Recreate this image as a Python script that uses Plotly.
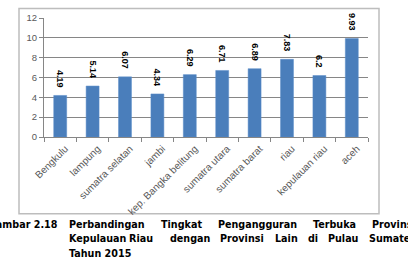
import plotly.graph_objects as go

categories = ["Bengkulu", "lampung", "sumatra selatan", "jambi", "kep. Bangka belitung",
              "sumatra utara", "sumatra barat", "riau", "kepulauan riau", "aceh"]
values = [4.19, 5.14, 6.07, 4.34, 6.29, 6.71, 6.89, 7.83, 6.2, 9.93]
value_labels = ["4.19", "5.14", "6.07", "4.34", "6.29", "6.71", "6.89", "7.83", "6.2", "9.93"]
y_ticks = [0, 2, 4, 6, 8, 10, 12]

caption_lines = [
    ["Perbandingan", "Tingkat", "Pengangguran", "Terbuka", "Provinsi"],
    ["Kepulauan", "Riau", "dengan", "Provinsi", "Lain", "di", "Pulau", "Sumatera"],
    ["Tahun 2015"],
]
caption_label = "Gambar 2.18"

W, H = 408, 267
L, R, T, B = 44, 368, 13, 137  # plot area in pixels

def px(x):
    return (x - L) / (R - L)

def py(y):
    return (B - y) / (B - T)

fig = go.Figure()
fig.add_trace(go.Bar(
    x=categories, y=values,
    marker=dict(color="#4a7ebb", line=dict(color="#5b8cc8", width=0.5)),
    text=[v + "\u00a0\u00a0" for v in value_labels], textposition="outside", textangle=90,
    textfont=dict(family="Liberation Sans", size=9, color="#000000"),
    texttemplate="<b>%{text}</b>",
    cliponaxis=False, constraintext="none",
))

# border frame
fig.add_shape(type="rect", xref="paper", yref="paper",
              x0=px(19), x1=px(379), y0=py(217), y1=py(3),
              line=dict(color="#bdbdbd", width=1.5), layer="below")

# caption words (justified layout)
word_x = [
    [67, 159, 216, 311, 370],
    [67, 127, 168, 218, 273, 306, 326, 367],
    [67],
]
line_y = [228, 243, 258]
cap_font = dict(family="DejaVu Sans", size=9.6, color="#000000")
fig.add_annotation(text="<b>" + caption_label + "</b>", xref="paper", yref="paper",
                   x=px(60), y=py(line_y[0]), xanchor="right", yanchor="middle",
                   showarrow=False, font=cap_font)
for words, xs, yy in zip(caption_lines, word_x, line_y):
    for w, xx in zip(words, xs):
        fig.add_annotation(text="<b>" + w + "</b>", xref="paper", yref="paper",
                           x=px(xx), y=py(yy), xanchor="left", yanchor="middle",
                           showarrow=False, font=cap_font)

fig.update_layout(
    width=W, height=H,
    margin=dict(l=L, r=W - R, t=T, b=H - B, pad=0),
    paper_bgcolor="white", plot_bgcolor="white",
    bargap=0.6, showlegend=False,
    font=dict(family="Liberation Sans", size=9, color="#595959"),
)
fig.update_xaxes(
    type="category", tickangle=-45, tickson="boundaries",
    ticks="outside", ticklen=4, tickcolor="#868686",
    showline=True, linecolor="#868686", linewidth=1,
    showgrid=False, tickfont=dict(size=10, color="#595959"),
    ticklabelshift=5, ticklabelstandoff=1,
)
fig.update_yaxes(
    range=[0, 12], tickvals=y_ticks, ticktext=[str(v) for v in y_ticks],
    ticks="outside", ticklen=4, tickcolor="#868686",
    showline=True, linecolor="#868686", linewidth=1,
    showgrid=True, gridcolor="#868686", gridwidth=1,
    zeroline=False, tickfont=dict(size=9.5, color="#595959"),
)

fig.write_html("out.html")
